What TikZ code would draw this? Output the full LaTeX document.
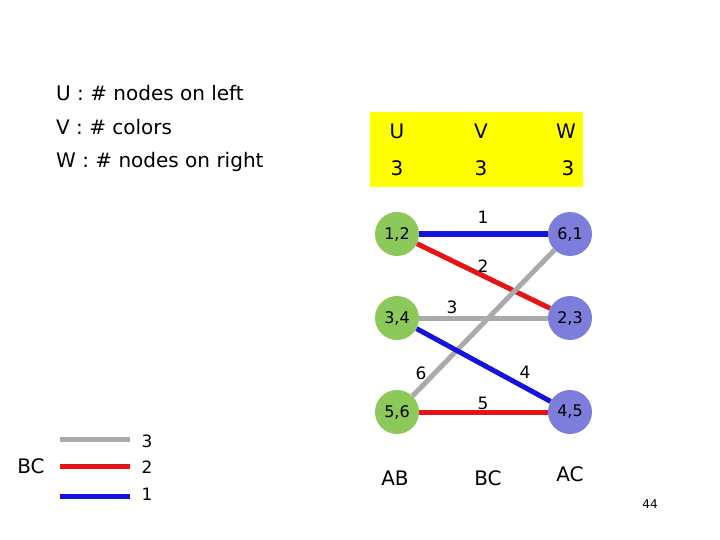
\documentclass[tikz,border=0pt]{standalone}
\usepackage{fontspec}
\setmainfont{DejaVu Sans}
\begin{document}
\begin{tikzpicture}[x=1pt,y=-1pt,
  lnode/.style={circle,fill=lgreen,minimum size=44pt,inner sep=0pt,font=\fontsize{16}{18}\selectfont},
  rnode/.style={circle,fill=rpurple,minimum size=44pt,inner sep=0pt,font=\fontsize{16}{18}\selectfont},
  txt/.style={font=\fontsize{20}{24}\selectfont,inner sep=0pt},
  lab/.style={font=\fontsize{17}{20}\selectfont,inner sep=0pt},
  edge/.style={line width=5pt}]
\definecolor{lgreen}{RGB}{140,200,90}
\definecolor{rpurple}{RGB}{125,125,220}
\definecolor{eblue}{RGB}{20,20,220}
\definecolor{ered}{RGB}{230,20,20}
\definecolor{egray}{RGB}{170,170,170}
\definecolor{ybox}{RGB}{255,255,0}
\useasboundingbox (0,0) rectangle (720,540);
\node[txt,anchor=west] (t1) at (56,93) {U :  \# nodes on left};
\node[txt,anchor=west] (t2) at (56,127) {V  : \# colors};
\node[txt,anchor=west] (t3) at (56,162) {W : \# nodes on right};
\fill[ybox] (370,112) rectangle (583,187);
\node[txt] (u) at (397,131) {U};
\node[txt] (v) at (481,131) {V};
\node[txt] (w) at (566,131) {W};
\node[txt] (u3) at (397,168) {3};
\node[txt] (v3) at (481,168) {3};
\node[txt] (w3) at (568,168) {3};
\node[lnode] (a) at (397,234) {1,2};
\node[lnode] (b) at (397,318) {3,4};
\node[lnode] (c) at (397,412) {5,6};
\node[rnode] (d) at (570,234) {6,1};
\node[rnode] (e) at (570,318) {2,3};
\node[rnode] (f) at (570,412) {4,5};
\draw[edge,eblue] (a) -- (d);
\draw[edge,ered] (a) -- (e);
\draw[edge,egray] (b) -- (e);
\draw[edge,egray] (c) -- (d);
\draw[edge,eblue] (b) -- (f);
\draw[edge,ered] (c) -- (f);
\node[lab] (l1) at (483,217) {1};
\node[lab] (l2) at (483,266) {2};
\node[lab] (l3) at (452,307) {3};
\node[lab] (l4) at (525,372) {4};
\node[lab] (l5) at (483,403) {5};
\node[lab] (l6) at (421,373) {6};
\node[txt] (ab) at (395,478) {AB};
\node[txt] (bc) at (488,478) {BC};
\node[txt] (ac) at (570,474) {AC};
\coordinate (g1) at (60,439); \coordinate (g2) at (130,439);
\coordinate (r1) at (60,466); \coordinate (r2) at (130,466);
\coordinate (b1) at (60,496); \coordinate (b2) at (130,496);
\draw[edge,egray] (g1) -- (g2);
\draw[edge,ered] (r1) -- (r2);
\draw[edge,eblue] (b1) -- (b2);
\node[lab] (n3) at (147,441) {3};
\node[lab] (n2) at (147,467) {2};
\node[lab] (n1) at (147,494) {1};
\node[txt] (bcl) at (31,466) {BC};
\node[font=\fontsize{12}{14}\selectfont,inner sep=0pt] (pg) at (650,504) {44};
\end{tikzpicture}
\end{document}
